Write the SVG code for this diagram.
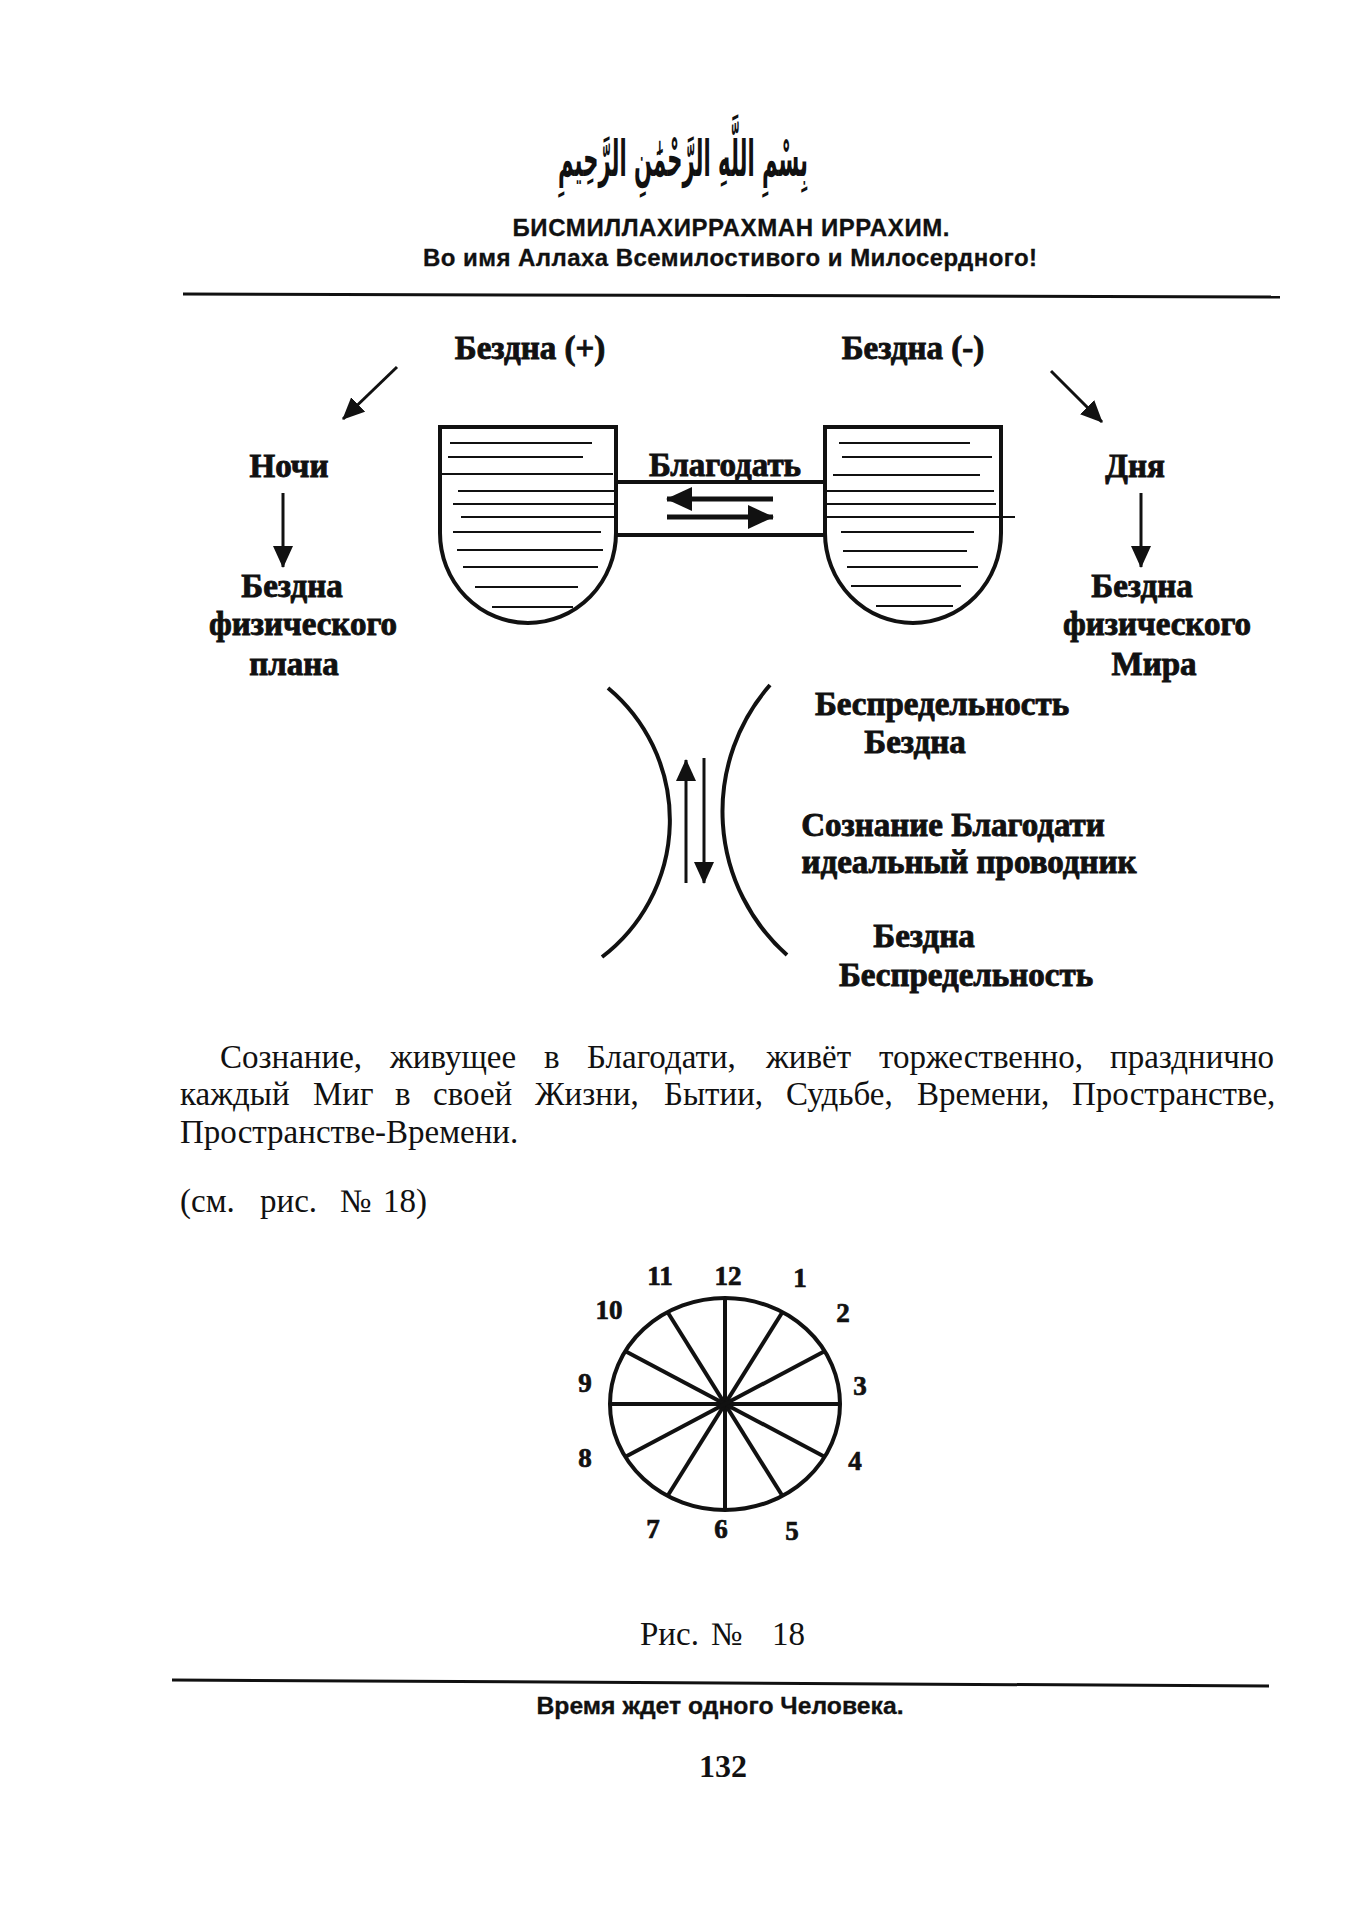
<svg xmlns="http://www.w3.org/2000/svg" width="1352" height="1920" viewBox="0 0 1352 1920">
<style>
.lbl{font-family:"Liberation Serif","Times New Roman",serif;font-weight:bold;font-size:33px;fill:#111;stroke:#111;stroke-width:0.9px;text-anchor:middle}
.body{font-family:"Liberation Serif","Times New Roman",serif;font-size:33px;fill:#111}
.hdr{font-family:"Liberation Sans",Arial,sans-serif;font-weight:bold;font-size:24px;fill:#111;stroke:#111;stroke-width:0.3px;text-anchor:middle}
.num{font-family:"Liberation Serif","Times New Roman",serif;font-weight:bold;font-size:27px;fill:#111;stroke:#111;stroke-width:0.7px;text-anchor:middle}
.ln{stroke:#111;fill:none;stroke-width:3}
.thick{stroke:#111;fill:none;stroke-width:4}
.hatch{stroke:#111;stroke-width:2;fill:none}
.bowl{stroke:#111;stroke-width:4;fill:none}
</style>
<defs>
<marker id="ah" markerUnits="userSpaceOnUse" viewBox="0 0 22 20" refX="21" refY="10" markerWidth="22" markerHeight="20" orient="auto">
<path d="M0,0 L22,10 L0,20 Z" fill="#111"/>
</marker>
<marker id="ahb" markerUnits="userSpaceOnUse" viewBox="0 0 26 24" refX="25" refY="12" markerWidth="26" markerHeight="24" orient="auto">
<path d="M0,0 L26,12 L0,24 Z" fill="#111"/>
</marker>
</defs>
<rect width="1352" height="1920" fill="#fff"/>

<g id="header">
<text x="683" y="176" font-family="'DejaVu Sans',sans-serif" font-weight="bold" font-size="50" fill="#111" text-anchor="middle" direction="rtl" textLength="250" lengthAdjust="spacingAndGlyphs">بِسْمِ اللَّهِ الرَّحْمَٰنِ الرَّحِيمِ</text>
<text class="hdr" x="731" y="236" textLength="437">БИСМИЛЛАХИРРАХМАН ИРРАХИМ.</text>
<text class="hdr" x="730" y="266" textLength="614">Во имя Аллаха Всемилостивого и Милосердного!</text>
<line x1="183" y1="294" x2="1280" y2="297" stroke="#111" stroke-width="3"/>
</g>

<g id="bowl-left">
<path class="bowl" d="M440,427 L440,533 A88,90 0 0 0 616,533 L616,427 Z"/>
<g class="hatch">
<line x1="450" y1="443" x2="592" y2="443"/>
<line x1="448" y1="457" x2="583" y2="457"/>
<line x1="440" y1="474" x2="613" y2="474"/>
<line x1="458" y1="491" x2="616" y2="491"/>
<line x1="453" y1="504" x2="616" y2="504"/>
<line x1="461" y1="517" x2="616" y2="517"/>
<line x1="453" y1="532" x2="601" y2="532"/>
<line x1="457" y1="550" x2="603" y2="550"/>
<line x1="463" y1="567" x2="598" y2="567"/>
<line x1="475" y1="587" x2="578" y2="587"/>
<line x1="492" y1="607" x2="573" y2="607"/>
</g>
</g>

<g id="bowl-right">
<path class="bowl" d="M825,427 L825,533 A88,90 0 0 0 1001,533 L1001,427 Z"/>
<g class="hatch">
<line x1="839" y1="443" x2="970" y2="443"/>
<line x1="842" y1="457" x2="992" y2="457"/>
<line x1="833" y1="475" x2="980" y2="475"/>
<line x1="825" y1="491" x2="994" y2="491"/>
<line x1="825" y1="504" x2="996" y2="504"/>
<line x1="825" y1="517" x2="1015" y2="517"/>
<line x1="841" y1="532" x2="974" y2="532"/>
<line x1="843" y1="551" x2="967" y2="551"/>
<line x1="847" y1="567" x2="978" y2="567"/>
<line x1="851" y1="586" x2="961" y2="586"/>
<line x1="876" y1="606" x2="953" y2="606"/>
</g>
</g>

<g id="label-blagodat">
<text class="lbl" x="725" y="476">Благодать</text>
</g>
<g id="label-bezdna-plus"><text class="lbl" x="530" y="359">Бездна (+)</text></g>
<g id="label-bezdna-minus"><text class="lbl" x="913" y="359">Бездна (-)</text></g>
<g id="label-nochi"><text class="lbl" x="289" y="477">Ночи</text></g>
<g id="label-left-bottom">
<text class="lbl" x="292" y="597">Бездна</text>
<text class="lbl" x="303" y="635">физического</text>
<text class="lbl" x="294" y="675">плана</text>
</g>
<g id="label-dnya"><text class="lbl" x="1135" y="477">Дня</text></g>
<g id="label-right-bottom">
<text class="lbl" x="1142" y="597">Бездна</text>
<text class="lbl" x="1157" y="635">физического</text>
<text class="lbl" x="1154" y="675">Мира</text>
</g>

<g id="lens">
<path class="thick" d="M608,688 A172,172 0 0 1 602,957"/>
<path class="thick" d="M770,685 A192,192 0 0 0 787,955"/>
</g>
<g id="label-lens">
<text class="lbl" x="942" y="715">Беспредельность</text>
<text class="lbl" x="915" y="753">Бездна</text>
<text class="lbl" x="953" y="836">Сознание Благодати</text>
<text class="lbl" x="969" y="873">идеальный проводник</text>
<text class="lbl" x="924" y="947">Бездна</text>
<text class="lbl" x="966" y="986">Беспредельность</text>
</g>

<g id="connectors">
<line class="ln" x1="397" y1="367" x2="343" y2="419" marker-end="url(#ah)"/>
<line class="ln" x1="1051" y1="371" x2="1102" y2="422" marker-end="url(#ah)"/>
<line class="ln" x1="283" y1="493" x2="283" y2="567" marker-end="url(#ah)"/>
<line class="ln" x1="1141" y1="493" x2="1141" y2="567" marker-end="url(#ah)"/>
<line x1="616" y1="482" x2="825" y2="482" stroke="#111" stroke-width="4"/>
<line x1="616" y1="535" x2="825" y2="535" stroke="#111" stroke-width="4"/>
<line x1="773" y1="499" x2="667" y2="499" stroke="#111" stroke-width="5" marker-end="url(#ahb)"/>
<line x1="667" y1="517" x2="773" y2="517" stroke="#111" stroke-width="5" marker-end="url(#ahb)"/>
<line class="ln" x1="686" y1="883" x2="686" y2="760" marker-end="url(#ah)"/>
<line class="ln" x1="704" y1="758" x2="704" y2="883" marker-end="url(#ah)"/>
</g>

<g id="paragraph" class="body">
<text y="1068"><tspan x="220">Сознание,</tspan><tspan x="390">живущее</tspan><tspan x="544">в</tspan><tspan x="587">Благодати,</tspan><tspan x="766">живёт</tspan><tspan x="879">торжественно,</tspan><tspan x="1110">празднично</tspan></text>
<text y="1105"><tspan x="180">каждый</tspan><tspan x="313">Миг</tspan><tspan x="395">в</tspan><tspan x="433">своей</tspan><tspan x="535">Жизни,</tspan><tspan x="664">Бытии,</tspan><tspan x="786">Судьбе,</tspan><tspan x="917">Времени,</tspan><tspan x="1072">Пространстве,</tspan></text>
<text x="180" y="1143">Пространстве-Времени.</text>
<text y="1212"><tspan x="180">(см.</tspan><tspan x="260">рис.</tspan><tspan x="340">№</tspan><tspan x="383">18)</tspan></text>
</g>

<g id="clock">
<ellipse class="thick" cx="725" cy="1404" rx="115" ry="106"/>
<g class="thick">
<line x1="725" y1="1298" x2="725" y2="1510"/>
<line x1="610" y1="1404" x2="840" y2="1404"/>
<line x1="667.5" y1="1312" x2="782.5" y2="1496"/>
<line x1="782.5" y1="1312" x2="667.5" y2="1496"/>
<line x1="625" y1="1351" x2="825" y2="1457"/>
<line x1="825" y1="1351" x2="625" y2="1457"/>
</g>
<text class="num" x="660" y="1285">11</text>
<text class="num" x="728" y="1285">12</text>
<text class="num" x="800" y="1287">1</text>
<text class="num" x="609" y="1319">10</text>
<text class="num" x="843" y="1322">2</text>
<text class="num" x="585" y="1392">9</text>
<text class="num" x="860" y="1395">3</text>
<text class="num" x="585" y="1467">8</text>
<text class="num" x="855" y="1470">4</text>
<text class="num" x="653" y="1538">7</text>
<text class="num" x="721" y="1538">6</text>
<text class="num" x="792" y="1540">5</text>
</g>

<g id="footer">
<text class="body" font-size="31" y="1645"><tspan x="640">Рис.</tspan><tspan x="711">№</tspan><tspan x="772">18</tspan></text>
<line x1="172" y1="1680" x2="1269" y2="1686" stroke="#111" stroke-width="3"/>
<text x="720" y="1714" font-family="'Liberation Sans Narrow','Liberation Sans',Arial,sans-serif" font-weight="bold" font-size="23" fill="#111" stroke="#111" stroke-width="0.3" text-anchor="middle" textLength="367" lengthAdjust="spacingAndGlyphs">Время ждет одного Человека.</text>
<text x="723" y="1777" font-family="'Liberation Serif','Times New Roman',serif" font-weight="bold" font-size="32" fill="#111" text-anchor="middle">132</text>
</g>
</svg>
